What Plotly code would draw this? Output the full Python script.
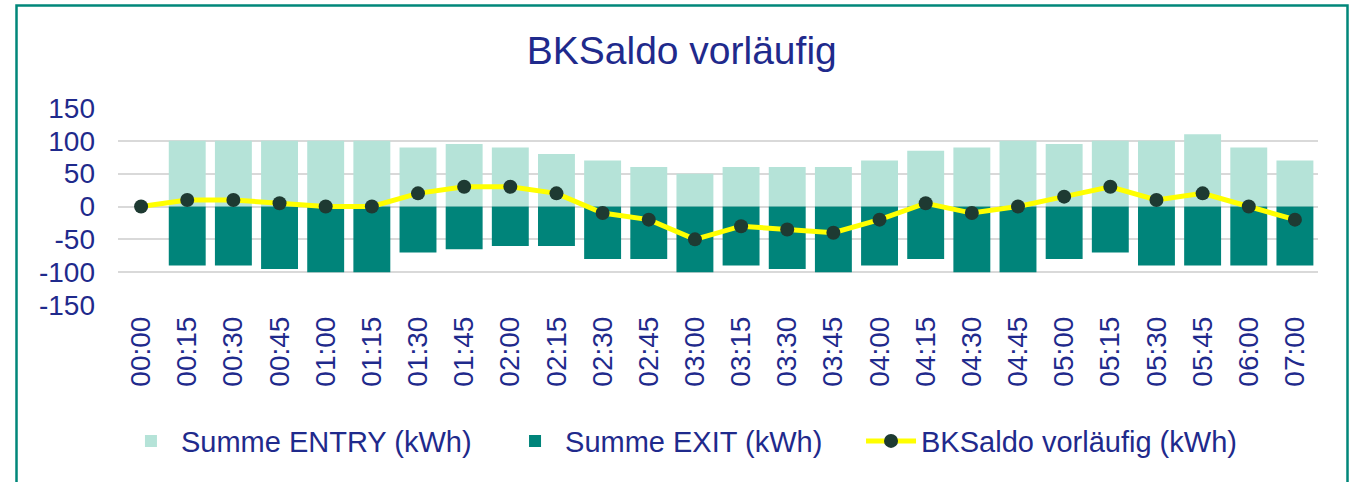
import plotly.graph_objects as go

categories = ["00:00", "00:15", "00:30", "00:45", "01:00", "01:15", "01:30", "01:45",
              "02:00", "02:15", "02:30", "02:45", "03:00", "03:15", "03:30", "03:45",
              "04:00", "04:15", "04:30", "04:45", "05:00", "05:15", "05:30", "05:45",
              "06:00", "07:00"]
entry = [0, 100, 100, 100, 100, 100, 90, 95, 90, 80, 70, 60, 50, 60, 60, 60,
         70, 85, 90, 100, 95, 100, 100, 110, 90, 70]
exit_ = [0, -90, -90, -95, -100, -100, -70, -65, -60, -60, -80, -80, -100, -90, -95, -100,
         -90, -80, -100, -100, -80, -70, -90, -90, -90, -90]
saldo = [0, 10, 10, 5, 0, 0, 20, 30, 30, 20, -10, -20, -50, -30, -35, -40,
         -20, 5, -10, 0, 15, 30, 10, 20, 0, -20]
y_ticks = [-150, -100, -50, 0, 50, 100, 150]
y_tick_labels = ["-150", "-100", "-50", "0", "50", "100", "150"]

NAVY = "#1F2A8C"
FONT = "Liberation Sans, Arial, sans-serif"

fig = go.Figure()
fig.add_trace(go.Bar(x=categories, y=entry, name="Summe ENTRY (kWh)", legend="legend",
                     marker=dict(color="#B5E3D8", line=dict(width=0))))
fig.add_trace(go.Bar(x=categories, y=exit_, name="Summe EXIT (kWh)", legend="legend2",
                     marker=dict(color="#00847A", line=dict(width=0))))
fig.add_trace(go.Scatter(x=categories, y=saldo, name="BKSaldo vorläufig (kWh)",
                         legend="legend3", mode="lines+markers",
                         line=dict(color="#FFFF00", width=5),
                         marker=dict(color="#1E3A32", size=14)))


def legend_at(xpos):
    return dict(orientation="h", x=xpos, xanchor="left", xref="container",
                y=0.085, yanchor="middle", yref="container",
                font=dict(size=29, color=NAVY, family=FONT),
                itemwidth=50, bgcolor="rgba(0,0,0,0)")


fig.update_layout(
    width=1350, height=482,
    barmode="relative",
    bargap=0.2,
    paper_bgcolor="white", plot_bgcolor="white",
    margin=dict(l=118, r=32, t=108, b=177, autoexpand=False),
    font=dict(family=FONT, color=NAVY, size=28),
    title=dict(text="BKSaldo vorläufig", x=0.505, xanchor="center", xref="container",
               y=0.895, yanchor="middle", yref="container",
               font=dict(size=39, color=NAVY, family=FONT)),
    legend=legend_at(0.0896),
    legend2=legend_at(0.3741),
    legend3=legend_at(0.6378),
    showlegend=True,
)
fig.update_xaxes(type="category", range=[-0.5, len(categories) - 0.5],
                 tickangle=-90, showgrid=False, zeroline=False,
                 showline=False, ticks="", automargin=False, ticklabelstandoff=5,
                 tickfont=dict(size=28, color=NAVY))
fig.update_yaxes(range=[-150, 150], tickvals=y_ticks, ticktext=y_tick_labels,
                 showgrid=True, gridcolor="#D9D9D9", gridwidth=2, zeroline=False,
                 showline=False, ticks="", automargin=False, ticklabelstandoff=22,
                 tickfont=dict(size=28, color=NAVY))

# chart frame
fig.add_shape(type="rect", xref="paper", yref="paper",
              x0=(16.5 - 118) / 1200, x1=(1347.5 - 118) / 1200,
              y0=-1.5, y1=(305 - 5.5) / 197,
              line=dict(color="#00877A", width=2.5), fillcolor="rgba(0,0,0,0)", layer="below")

fig.write_html("out.html", config={"displayModeBar": False},
               post_script="document.body.style.margin='0';document.body.style.overflow='hidden';")
